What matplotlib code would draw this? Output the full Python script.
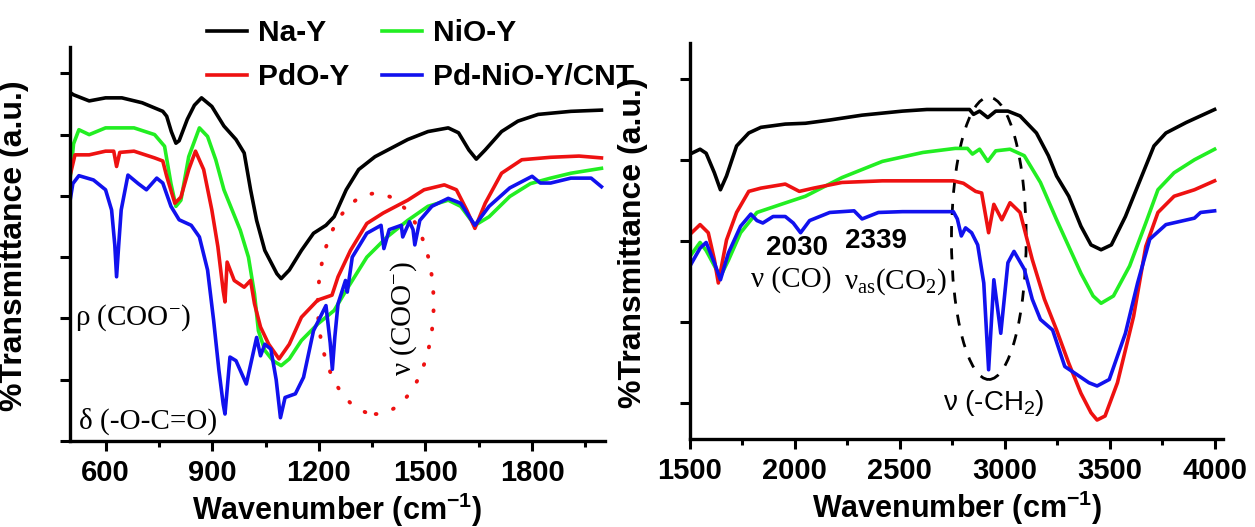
import matplotlib
matplotlib.use("Agg")
import matplotlib.pyplot as plt
from matplotlib.patches import Ellipse
from matplotlib.ticker import MultipleLocator, NullFormatter

# ---------------- data (left panel, 500-2000 cm-1) ----------------
L_nay_x = [502, 510, 554, 600, 646, 703, 761, 772, 785, 798, 807, 830, 850, 870, 899, 933, 967, 990, 1008, 1025, 1048, 1082, 1094, 1117, 1151, 1185, 1220, 1243, 1277, 1312, 1358, 1404, 1450, 1507, 1564, 1593, 1622, 1643, 1668, 1714, 1760, 1817, 1909, 1995]
L_nay_y = [5.68, 5.65, 5.55, 5.60, 5.60, 5.52, 5.38, 5.30, 5.05, 4.86, 4.90, 5.25, 5.48, 5.60, 5.46, 5.14, 4.92, 4.70, 4.10, 3.60, 3.11, 2.73, 2.65, 2.79, 3.11, 3.39, 3.52, 3.66, 4.10, 4.43, 4.64, 4.78, 4.92, 5.05, 5.11, 5.03, 4.75, 4.60, 4.75, 5.05, 5.22, 5.33, 5.38, 5.40]

L_nio_x = [499, 510, 525, 554, 600, 680, 738, 766, 784, 798, 812, 834, 864, 887, 910, 933, 956, 979, 1002, 1019, 1030, 1048, 1071, 1094, 1117, 1151, 1197, 1243, 1277, 1335, 1392, 1450, 1507, 1564, 1599, 1639, 1679, 1737, 1795, 1852, 1909, 1995]
L_nio_y = [4.20, 4.85, 5.08, 5.00, 5.11, 5.11, 5.00, 4.81, 4.20, 3.83, 3.93, 4.64, 5.11, 4.97, 4.59, 4.10, 3.77, 3.44, 3.00, 2.40, 1.80, 1.48, 1.31, 1.23, 1.34, 1.64, 1.91, 2.13, 2.46, 3.00, 3.33, 3.60, 3.83, 3.93, 3.83, 3.52, 3.66, 3.99, 4.20, 4.29, 4.37, 4.45]

L_pdo_x = [499, 514, 554, 600, 623, 631, 640, 680, 738, 761, 772, 795, 812, 834, 853, 876, 899, 916, 931, 936, 942, 962, 990, 1008, 1019, 1036, 1059, 1088, 1117, 1151, 1197, 1237, 1254, 1289, 1335, 1381, 1450, 1496, 1553, 1587, 1616, 1639, 1668, 1714, 1771, 1852, 1932, 1995]
L_pdo_y = [4.30, 4.67, 4.67, 4.73, 4.73, 4.48, 4.71, 4.73, 4.62, 4.57, 4.32, 3.88, 3.98, 4.43, 4.73, 4.43, 3.77, 3.17, 2.45, 2.27, 2.92, 2.62, 2.51, 2.62, 2.24, 1.86, 1.58, 1.34, 1.58, 2.02, 2.30, 2.38, 2.68, 3.11, 3.55, 3.72, 3.93, 4.10, 4.18, 4.10, 3.77, 3.47, 3.88, 4.37, 4.59, 4.63, 4.65, 4.62]

L_cnt_x = [499, 508, 525, 566, 600, 617, 626, 631, 637, 644, 663, 692, 715, 744, 761, 784, 807, 841, 864, 887, 904, 919, 931, 936, 950, 967, 996, 1025, 1036, 1048, 1065, 1080, 1092, 1105, 1134, 1157, 1185, 1220, 1232, 1238, 1245, 1254, 1275, 1280, 1294, 1335, 1375, 1383, 1398, 1432, 1436, 1455, 1465, 1470, 1484, 1518, 1564, 1599, 1639, 1679, 1737, 1800, 1823, 1852, 1909, 1966, 1995]
L_cnt_y = [3.88, 4.20, 4.33, 4.26, 4.10, 3.77, 3.20, 2.68, 3.20, 3.77, 4.34, 4.20, 4.10, 4.29, 4.21, 3.83, 3.61, 3.52, 3.33, 2.79, 1.97, 1.15, 0.60, 0.44, 1.37, 1.31, 0.93, 1.69, 1.39, 1.58, 1.50, 1.00, 0.38, 0.71, 0.77, 1.04, 1.80, 2.21, 1.60, 1.17, 1.70, 2.24, 2.62, 2.43, 3.00, 3.39, 3.52, 3.14, 3.45, 3.52, 3.33, 3.58, 3.45, 3.20, 3.60, 3.83, 3.96, 3.88, 3.52, 3.83, 4.13, 4.32, 4.21, 4.21, 4.29, 4.29, 4.15]

# ---------------- data (right panel, 1500-4000 cm-1) ----------------
R_nay_x = [1500, 1548, 1577, 1616, 1645, 1674, 1722, 1780, 1838, 1896, 1954, 2050, 2166, 2320, 2513, 2629, 2832, 2851, 2880, 2919, 2957, 3015, 3073, 3151, 3208, 3247, 3305, 3363, 3411, 3459, 3508, 3575, 3653, 3711, 3768, 3865, 4000]
R_nay_y = [4.07, 4.13, 4.08, 3.84, 3.63, 3.80, 4.17, 4.33, 4.40, 4.42, 4.44, 4.45, 4.49, 4.55, 4.60, 4.62, 4.62, 4.56, 4.60, 4.52, 4.60, 4.60, 4.54, 4.33, 4.05, 3.80, 3.55, 3.18, 2.95, 2.89, 2.95, 3.30, 3.80, 4.17, 4.33, 4.46, 4.62]

R_nio_x = [1500, 1548, 1577, 1625, 1645, 1683, 1741, 1819, 1934, 2050, 2224, 2417, 2610, 2764, 2822, 2846, 2880, 2919, 2957, 3025, 3093, 3170, 3247, 3305, 3363, 3421, 3459, 3518, 3595, 3672, 3730, 3807, 3904, 4000]
R_nio_y = [2.81, 2.98, 2.88, 2.65, 2.56, 2.76, 3.10, 3.35, 3.45, 3.55, 3.78, 3.98, 4.09, 4.14, 4.14, 4.07, 4.13, 3.98, 4.11, 4.13, 4.05, 3.72, 3.26, 2.93, 2.60, 2.32, 2.23, 2.32, 2.69, 3.22, 3.63, 3.84, 4.00, 4.13]

R_pdo_x = [1500, 1548, 1587, 1616, 1635, 1674, 1722, 1780, 1838, 1954, 2021, 2089, 2224, 2417, 2755, 2803, 2861, 2890, 2923, 2948, 2986, 3025, 3073, 3131, 3189, 3247, 3305, 3363, 3411, 3440, 3478, 3537, 3614, 3672, 3730, 3807, 3904, 4000]
R_pdo_y = [3.08, 3.20, 3.10, 2.77, 2.48, 3.01, 3.35, 3.61, 3.65, 3.70, 3.61, 3.65, 3.72, 3.74, 3.74, 3.71, 3.61, 3.59, 3.10, 3.45, 3.26, 3.47, 3.35, 2.77, 2.28, 1.90, 1.49, 1.12, 0.88, 0.79, 0.84, 1.25, 2.07, 2.93, 3.35, 3.55, 3.63, 3.74]

R_cnt_x = [1500, 1548, 1577, 1616, 1645, 1683, 1741, 1790, 1819, 1847, 1896, 1954, 1992, 2027, 2070, 2166, 2282, 2320, 2398, 2513, 2755, 2774, 2793, 2813, 2842, 2871, 2900, 2923, 2948, 2981, 3015, 3044, 3093, 3131, 3170, 3228, 3286, 3344, 3401, 3440, 3498, 3575, 3633, 3691, 3768, 3904, 3933, 4000]
R_cnt_y = [2.69, 2.91, 2.98, 2.73, 2.52, 2.85, 3.18, 3.33, 3.25, 3.22, 3.30, 3.30, 3.22, 3.10, 3.25, 3.35, 3.37, 3.27, 3.35, 3.36, 3.36, 3.27, 3.06, 3.16, 3.10, 2.95, 2.48, 1.41, 2.52, 1.86, 2.73, 2.87, 2.65, 2.28, 2.03, 1.90, 1.45, 1.35, 1.25, 1.21, 1.29, 1.86, 2.48, 3.02, 3.20, 3.28, 3.35, 3.37]

labels = ["Na-Y", "NiO-Y", "PdO-Y", "Pd-NiO-Y/CNT"]
colors = ["#000000", "#22ee22", "#ee1111", "#1111ee"]

plt.rcParams["mathtext.default"] = "regular"
plt.rcParams["axes.unicode_minus"] = False
SANS = "Liberation Sans"
SERIF = "Liberation Serif"

fig = plt.figure(figsize=(12.55, 5.27), dpi=100)
W, H = 1255.0, 527.0
axL = fig.add_axes([70 / W, 1 - 441 / H, 535 / W, 394 / H])
axR = fig.add_axes([690 / W, 1 - 439 / H, 533 / W, 396 / H])

left_series = [(L_nay_x, L_nay_y), (L_nio_x, L_nio_y), (L_pdo_x, L_pdo_y), (L_cnt_x, L_cnt_y)]
right_series = [(R_nay_x, R_nay_y), (R_nio_x, R_nio_y), (R_pdo_x, R_pdo_y), (R_cnt_x, R_cnt_y)]

handles = []
for (x, y), lab, c in zip(left_series, labels, colors):
    h, = axL.plot(x, y, color=c, lw=2.6, label=lab, solid_joinstyle="round")
    handles.append(h)
for (x, y), lab, c in zip(right_series, labels, colors):
    axR.plot(x, y, color=c, lw=2.6, solid_joinstyle="round")

for ax in (axL, axR):
    for s in ("top", "right"):
        ax.spines[s].set_visible(False)
    for s in ("left", "bottom"):
        ax.spines[s].set_linewidth(2.4)
    ax.yaxis.set_major_locator(MultipleLocator(1))
    ax.yaxis.set_major_formatter(NullFormatter())
    ax.tick_params(axis="y", which="major", direction="out", length=7, width=2.2)
    ax.tick_params(axis="x", which="major", direction="out", length=7, width=2.2, pad=6)
    ax.tick_params(axis="x", which="minor", direction="out", length=4, width=2.2)

axL.set_xlim(500, 2005)
axL.set_ylim(0, 6.43)
axL.set_xticks([600, 900, 1200, 1500, 1800])
axL.xaxis.set_minor_locator(MultipleLocator(150))

axR.set_xlim(1500, 4040)
axR.set_ylim(0.556, 5.44)
axR.set_xticks([1500, 2000, 2500, 3000, 3500, 4000])
axR.xaxis.set_minor_locator(MultipleLocator(250))

for ax in (axL, axR):
    for t in ax.get_xticklabels():
        t.set_fontfamily(SANS)
        t.set_fontweight("bold")
        t.set_fontsize(21)
    ax.set_xlabel("Wavenumber (cm$^{-1}$)", fontsize=22, fontweight="bold", family=SANS)
    ax.set_ylabel("%Transmittance (a.u.)", fontsize=23, fontweight="bold", family=SANS)

axL.xaxis.set_label_coords(0.499, -0.125)
axR.xaxis.set_label_coords(0.501, -0.125)
axL.yaxis.set_label_coords(-0.0766, 0.495)
axR.yaxis.set_label_coords(-0.0788, 0.495)

# legend (two rows above the left panel)
order = [0, 2, 1, 3]
leg = fig.legend([handles[i] for i in order], [labels[i] for i in order], ncol=2,
                 loc="upper left", bbox_to_anchor=(207 / W, 1 - 19 / H), bbox_transform=fig.transFigure,
                 frameon=False, borderpad=0, borderaxespad=0, handlelength=1.35, handletextpad=0.35,
                 columnspacing=1.1, labelspacing=0.55,
                 prop={"family": SANS, "weight": "bold", "size": 21.5})

# annotations, left panel
axL.text(514, 2.02, "ρ (COO$^{-}$)", family=SERIF, fontsize=21, ha="left", va="center")
axL.text(525, 0.32, "δ (-O-C=O)", family=SERIF, fontsize=21, ha="left", va="center")
axL.text(1438, 2.0, "ν (COO$^{-}$)", family=SERIF, fontsize=21, ha="center", va="center", rotation=90)
axL.add_patch(Ellipse((1360, 2.24), 326, 3.6, fill=False, edgecolor="#ee1111", lw=2.8,
                      linestyle=(0, (0.2, 4.5)), capstyle="round"))

# annotations, right panel
axR.text(2012, 2.91, "2030", family=SANS, fontweight="bold", fontsize=20, ha="center", va="center")
axR.text(2388, 3.00, "2339", family=SANS, fontweight="bold", fontsize=20, ha="center", va="center")
axR.text(1983, 2.52, "ν (CO)", family=SERIF, fontsize=21, ha="center", va="center")
axR.text(2480, 2.50, "$ν_{as}$(CO$_{2}$)", family=SERIF, fontsize=21, ha="center", va="center")
axR.text(2948, 1.0, "ν (-CH$_{2}$)", family=SANS, fontsize=20, ha="center", va="center")
axR.add_patch(Ellipse((2924, 3.03), 356, 3.48, fill=False, edgecolor="black", lw=2.0,
                      linestyle=(0, (4, 4))))

fig.savefig("out.png", dpi=100, facecolor="white")
